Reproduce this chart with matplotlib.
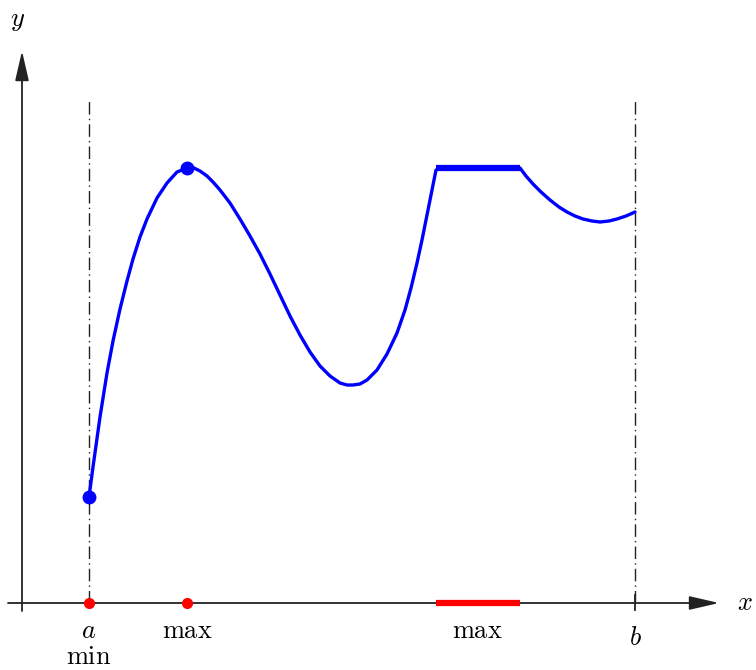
import matplotlib
matplotlib.use("Agg")
import matplotlib.pyplot as plt

# units: pixels from the origin of the drawn axes (x right, y up)
a_x = 67
b_x = 613
top_y = 503

# curve f(x)
curve_x = [67, 71, 78, 85, 91, 98, 105, 111, 118, 125, 135, 145, 155, 165,
           172, 178, 185, 191, 198, 208, 218, 228, 238, 248, 258, 268, 278,
           288, 298, 308, 318, 325, 331, 338, 345, 355, 365, 375, 383, 389,
           395, 400, 405, 410, 414]
curve_y = [106, 136, 186, 230, 262, 294, 322, 344, 366, 384, 405, 420, 431, 435,
           435, 432, 427, 421, 413, 400, 384, 367, 349, 329, 308, 287, 268,
           251, 237, 227, 220, 218, 218, 219, 223, 233, 249, 270, 293, 315,
           340, 363, 388, 413, 433]
plateau_x = [414, 498]
plateau_y = [435, 435]
tail_x = [498, 504, 511, 519, 528, 537, 545, 553, 561, 570, 578, 587, 595,
          604, 613]
tail_y = [435, 427, 419, 411, 403, 396, 391, 387, 384, 382, 381, 382, 384,
          387, 391]

# extrema
end_pts_x = [67, 165]
end_pts_y = [106, 435]
red_dots_x = [67, 165]
red_span = [414, 498]

plt.rcParams['mathtext.fontset'] = 'cm'

fig = plt.figure(figsize=(7.56, 6.70), dpi=100)
ax = fig.add_axes([0, 0, 1, 1])
ax.set_xlim(-22, 734)
ax.set_ylim(-67, 603)
ax.axis('off')

# axes with arrows
ax.annotate('', xy=(697, 0), xytext=(-14, 0),
            arrowprops=dict(arrowstyle='-|>,head_length=1.3,head_width=0.3',
                            lw=1.3, color='#222222', mutation_scale=14,
                            shrinkA=0, shrinkB=0))
ax.annotate('', xy=(0, 552), xytext=(0, -8),
            arrowprops=dict(arrowstyle='-|>,head_length=1.3,head_width=0.3',
                            lw=1.3, color='#222222', mutation_scale=14,
                            shrinkA=0, shrinkB=0))

# a and b verticals
for xv in (a_x, b_x):
    ax.plot([xv, xv], [0, top_y], color='#222222', lw=1.0,
            linestyle=(0, (9, 3, 1, 3)))
ax.plot([b_x, b_x], [-7, 8], color='#222222', lw=1.3)

# function
ax.plot(curve_x, curve_y, color='#0000ff', lw=2.4, solid_joinstyle='round',
        solid_capstyle='round')
ax.plot(plateau_x, plateau_y, color='#0000ff', lw=4.5, solid_capstyle='butt')
ax.plot(tail_x, tail_y, color='#0000ff', lw=2.4, solid_joinstyle='round',
        solid_capstyle='round')
ax.plot(end_pts_x, end_pts_y, 'o', color='#0000ff', ms=9)

# extrema on the x axis
ax.plot(red_dots_x, [0, 0], 'o', color='#ff0000', ms=7, zorder=5)
ax.plot(red_span, [0, 0], color='#ff0000', lw=4.5, solid_capstyle='butt',
        zorder=5)

# labels
fs = 19
ax.text(a_x, -35, r'$a$', ha='center', va='baseline', fontsize=fs)
ax.text(a_x, -61, r'$\mathrm{min}$', ha='center', va='baseline', fontsize=fs)
ax.text(165, -35, r'$\mathrm{max}$', ha='center', va='baseline', fontsize=fs)
ax.text(455, -35, r'$\mathrm{max}$', ha='center', va='baseline', fontsize=fs)
ax.text(b_x, -42, r'$b$', ha='center', va='baseline', fontsize=fs)
ax.text(723, 0, r'$x$', ha='center', va='center', fontsize=fs)
ax.text(-4, 583, r'$y$', ha='center', va='center', fontsize=fs)

fig.savefig('out.png', dpi=100)
